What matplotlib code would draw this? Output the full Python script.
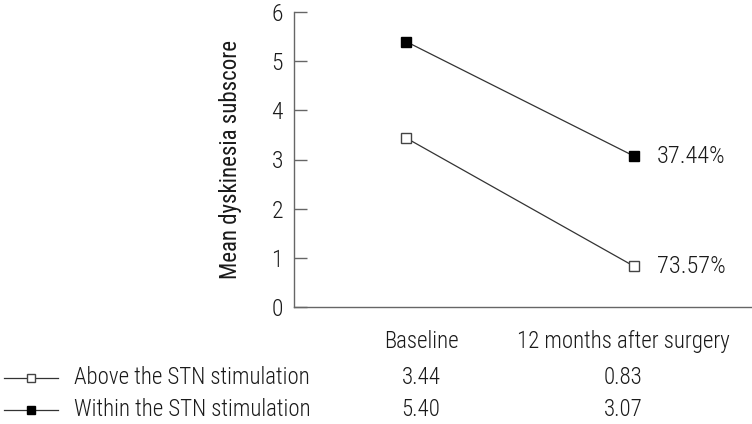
import matplotlib
matplotlib.use("Agg")
import matplotlib.pyplot as plt
from matplotlib import font_manager

# data
timepoints = ["Baseline", "12 months after surgery"]
above_stn = [3.44, 0.83]
within_stn = [5.40, 3.07]
pct_within = "37.44%"
pct_above = "73.57%"

names = {f.name for f in font_manager.fontManager.ttflist}
fam = "DejaVu Sans"
for cand in ["Roboto Condensed", "Liberation Sans Narrow", "Archivo Narrow",
             "Barlow Condensed", "Asap Condensed"]:
    if cand in names:
        fam = cand
        break
plt.rcParams["font.family"] = [fam, "DejaVu Sans"]
plt.rcParams["font.size"] = 15
plt.rcParams["font.weight"] = "light"

fig = plt.figure(figsize=(7.52, 4.24), dpi=100)
ax = fig.add_axes([294 / 752, 1 - 307 / 424, 1 - 294 / 752, 295 / 424])

x = [0, 1]
line_col = "#333333"
txt_col = "#1a1a1a"
ax.plot(x, within_stn, color=line_col, lw=0.9, marker="s", ms=7,
        mfc="black", mec="black", zorder=3)
ax.plot(x, above_stn, color=line_col, lw=0.9, marker="s", ms=7,
        mfc="white", mec="#444444", mew=1, zorder=3)

ax.text(1.1, within_stn[1], pct_within, va="center", ha="left", fontsize=17.5, color=txt_col)
ax.text(1.1, above_stn[1], pct_above, va="center", ha="left", fontsize=17.5, color=txt_col)

ax.set_xlim(-0.491, 1.518)
ax.set_ylim(0, 6)
ax.set_yticks(range(0, 7))
ax.set_xticks([])
ax.spines["top"].set_visible(False)
ax.spines["right"].set_visible(False)
for s in ("left", "bottom"):
    ax.spines[s].set_color("#666666")
    ax.spines[s].set_linewidth(1)
ax.tick_params(axis="y", direction="in", length=9, width=1, color="#666666",
               labelsize=17, pad=8, labelcolor=txt_col)
ax.set_ylabel("Mean dyskinesia subscore", fontsize=16.5, color=txt_col, labelpad=21)

# table below the axes
def fx(px):
    return px / 752

def fy(py):
    return 1 - py / 424

col_x = [421, 623]
for cx, lab in zip(col_x, timepoints):
    fig.text(fx(cx), fy(341), lab, ha="center", va="center", fontsize=16.5, color=txt_col)

rows = [("Above the STN stimulation", above_stn, "white"),
        ("Within the STN stimulation", within_stn, "black")]
row_y = [378, 410]
for (lab, vals, fc), ry in zip(rows, row_y):
    fig.add_artist(plt.Line2D([fx(4), fx(58)], [fy(ry), fy(ry)], color=line_col, lw=0.9))
    fig.add_artist(plt.Line2D([fx(31)], [fy(ry)], marker="s", ms=5.5, mfc=fc,
                              mec="#444444" if fc == "white" else "black", lw=0))
    fig.text(fx(74), fy(ry), lab, ha="left", va="center", fontsize=16.5, color=txt_col)
    for cx, v in zip(col_x, vals):
        fig.text(fx(cx), fy(ry), f"{v:.2f}", ha="center", va="center", fontsize=16.5, color=txt_col)

fig.savefig("out.png", dpi=100)
